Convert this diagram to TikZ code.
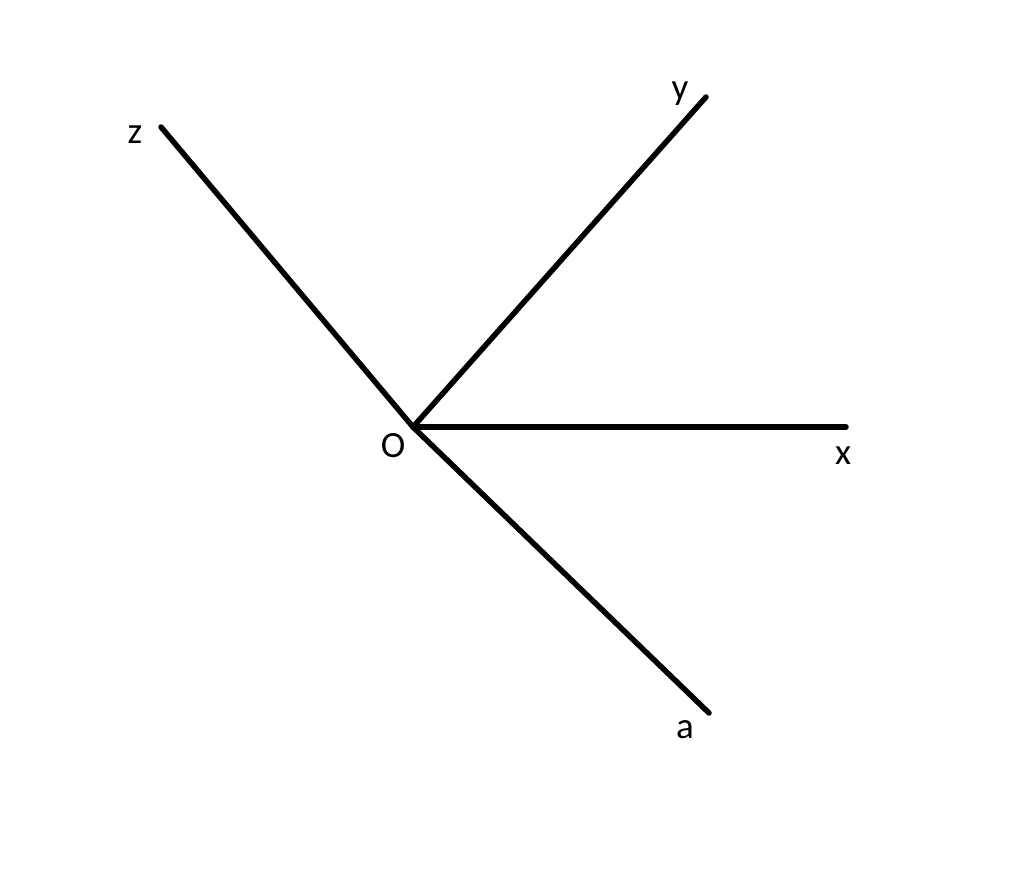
\documentclass[tikz,border=0pt]{standalone}
\usepackage{fontspec}
\setmainfont{Carlito}
\begin{document}
\begin{tikzpicture}[x=1pt,y=-1pt,
  axis/.style={line width=5.5pt,line cap=round,black},
  lbl/.style={anchor=base,inner sep=0pt,font=\fontsize{37}{44}\selectfont}]
\useasboundingbox (0,0) rectangle (1024,891);
\coordinate (O) at (413,427);
\coordinate (Z) at (161,127);
\coordinate (Y) at (706,97);
\coordinate (X) at (846,427);
\coordinate (A) at (709,713);
\draw[axis] (O) -- (Z);
\draw[axis] (O) -- (Y);
\draw[axis] (O) -- (X);
\draw[axis] (O) -- (A);
\node[lbl] (lz) at (135,143) {z};
\node[lbl] (ly) at (680,99) {y};
\node[lbl] (lx) at (843,464) {x};
\node[lbl] (lo) at (393,457) {O};
\node[lbl] (la) at (685,738) {a};
\end{tikzpicture}
\end{document}
